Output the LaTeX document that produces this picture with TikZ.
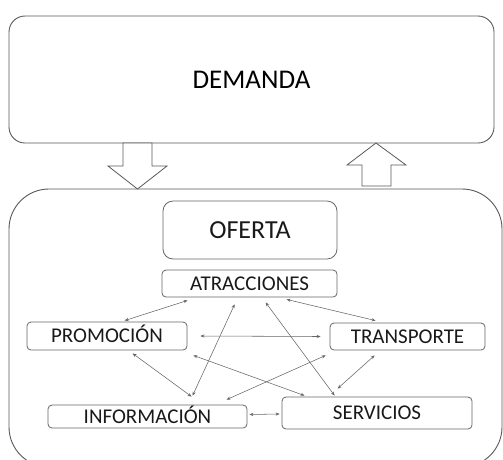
\documentclass[tikz,border=0pt]{standalone}
\usepackage{fontspec}
\setmainfont{Carlito}
\usetikzlibrary{arrows.meta,calc}
\begin{document}
\begin{tikzpicture}[x=1pt,y=-1pt,
  bigbox/.style={draw=black!65, line width=0.9pt, inner sep=0pt},
  small/.style={draw=black!60, line width=0.8pt, rounded corners=4pt, inner sep=0pt,
    font=\fontsize{21}{21}\selectfont, text=black!90, text height=13.5pt, text depth=0pt},
  blockarrow/.style={draw=black!65, line width=0.8pt, fill=white, line join=miter},
  link/.style={draw=black!60, line width=0.55pt,
    {Stealth[length=4pt,width=3.2pt]}-{Stealth[length=4pt,width=3.2pt]}}]
\useasboundingbox (0,0) rectangle (503,459);
% big boxes
\node[bigbox, rounded corners=16pt, minimum width=485pt, minimum height=127pt,
  font=\fontsize{27}{27}\selectfont, text height=17.5pt, text depth=0pt] (dem) at (251.5,79.5) {DEMANDA};
\node[bigbox, rounded corners=40pt, minimum width=493pt, minimum height=278pt] (off) at (255.5,328) {};
% block arrows
\draw[blockarrow] (123,143) -- (152,143) -- (152,166) -- (167,166) -- (137.5,189) -- (108,166) -- (123,166) -- cycle;
\draw[blockarrow] (362,186) -- (391,186) -- (391,165) -- (406,165) -- (376,143) -- (347,165) -- (362,165) -- cycle;
% inner nodes
\node[small, rounded corners=10pt, minimum width=174pt, minimum height=58pt,
  font=\fontsize{26}{26}\selectfont, text height=16.7pt] (ofe) at (250,230) {OFERTA};
\node[small, minimum width=175pt, minimum height=27pt] (atr) at (249.5,283.5) {ATRACCIONES};
\node[small, minimum width=160pt, minimum height=28pt] (pro) at (107,336) {PROMOCIÓN};
\node[small, minimum width=155pt, minimum height=27pt] (tra) at (407.5,336.5) {TRANSPORTE};
\node[small, minimum width=199pt, minimum height=23pt] (inf) at (147.5,416.5) {INFORMACIÓN};
\node[small, minimum width=190pt, minimum height=32pt] (ser) at (377,413) {SERVICIOS};
% connectors
\draw[link] ($(atr.south west)+(26,3)$) -- ($(pro.north west)+(98,-1)$);
\draw[link] ($(atr.south west)+(125,2)$) -- ($(tra.north west)+(46,-2)$);
\draw[link] ($(pro.east)+(13,0)$) -- ($(tra.west)+(-9,0)$);
\draw[link] ($(pro.south west)+(106,3)$) -- ($(inf.north west)+(144,-8)$);
\draw[link] ($(pro.south east)+(6,5)$) -- ($(ser.north west)+(23,-1)$);
\draw[link] ($(atr.south west)+(73,7)$) -- ($(inf.north west)+(145,-9)$);
\draw[link] ($(atr.south west)+(104,5)$) -- ($(ser.north west)+(53,-1)$);
\draw[link] ($(tra.south west)+(-4,5)$) -- ($(inf.north west)+(179,-5)$);
\draw[link] ($(tra.south west)+(45,5)$) -- ($(ser.north west)+(56,-8)$);
\draw[link] ($(inf.east)+(2,-2)$) -- ($(ser.west)+(-2,1)$);
\end{tikzpicture}
\end{document}
